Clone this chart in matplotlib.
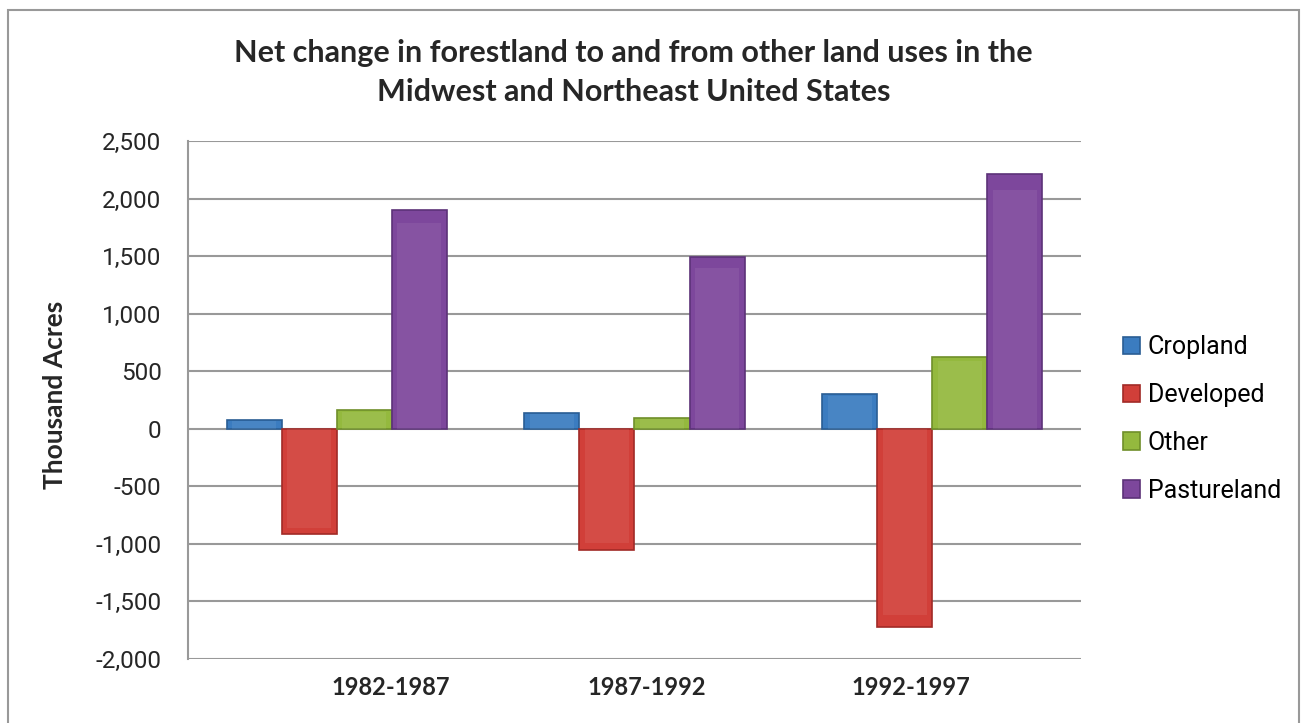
import numpy as np
import matplotlib
matplotlib.use('Agg')
import matplotlib.pyplot as plt
from matplotlib.patches import Rectangle
from matplotlib.ticker import FuncFormatter

# values (thousand acres)
periods = ['1982-1987', '1987-1992', '1992-1997']
cropland = [72, 136, 304]
developed = [-913, -1052, -1725]
other = [159, 90, 623]
pastureland = [1898, 1490, 2211]

series_names = ['Cropland', 'Developed', 'Other', 'Pastureland']
series_vals = [cropland, developed, other, pastureland]
colors = ['#3b7cc0', '#d13f39', '#94b93e', '#7d479c']
edges = ['#2a5d94', '#a12a26', '#6f8f2a', '#5c3278']

fig = plt.figure(figsize=(13.01, 7.23), dpi=100)
ax = fig.add_axes([0.1445, 0.0885, 0.6864, 0.7165])

x = np.arange(len(periods))
w = 0.185
for i, (name, vals) in enumerate(zip(series_names, series_vals)):
    pos = x + (i - 1.5) * w
    ax.bar(pos, vals, width=w, color=colors[i], edgecolor=edges[i],
           linewidth=1.2, label=name, zorder=3)
    # soft inner bevel
    ax.bar(pos, np.array(vals) * 0.94, width=w * 0.8, color='white', alpha=0.07,
           linewidth=0, zorder=4)

ax.set_xlim(-0.5, 2.5)
ax.set_ylim(-2000, 2500)
ax.set_yticks(np.arange(-2000, 2501, 500))
ax.yaxis.set_major_formatter(FuncFormatter(lambda v, p: '{:,.0f}'.format(v)))
ax.grid(axis='y', color='#999999', linewidth=1.5, zorder=0)
ax.tick_params(axis='y', length=0, pad=19, labelsize=17.5, labelcolor='#262626')
for lab in ax.get_yticklabels():
    lab.set_fontfamily('Roboto')

# category labels sit a little off the group centres in the original
label_shift = [0.18, 0.04, -0.07]
ax.set_xticks(x + np.array(label_shift))
ax.set_xticklabels(periods, fontfamily='Lato', fontweight='bold', fontsize=17, color='#262626')
ax.tick_params(axis='x', length=0, pad=12)

for s in ['top', 'right', 'bottom']:
    ax.spines[s].set_visible(False)
ax.spines['left'].set_color('#999999')
ax.spines['left'].set_linewidth(1.5)

ax.set_ylabel('Thousand Acres', fontfamily='Lato', fontweight='bold', fontsize=19,
              color='#262626', labelpad=0)
ax.yaxis.set_label_coords(-0.1355, 0.51)

fig.text(0.487, 0.9, 'Net change in forestland to and from other land uses in the\nMidwest and Northeast United States',
         ha='center', va='center', fontfamily='Lato', fontweight='bold', fontsize=22,
         color='#262626', linespacing=1.5)

ax.legend(loc='center left', bbox_to_anchor=(0.8535, 0.4205), bbox_transform=fig.transFigure,
          frameon=False, borderpad=0, handlelength=0.7, handleheight=0.7,
          handletextpad=0.3, labelspacing=0.95,
          prop={'family': 'Roboto', 'size': 18})

fig.patches.append(Rectangle((8 / 1301, -0.02), (1299 - 8) / 1301, 1 - 10 / 723 + 0.02,
                             transform=fig.transFigure, fill=False,
                             edgecolor='#999999', linewidth=1.5))

fig.savefig('out.png', dpi=100)
